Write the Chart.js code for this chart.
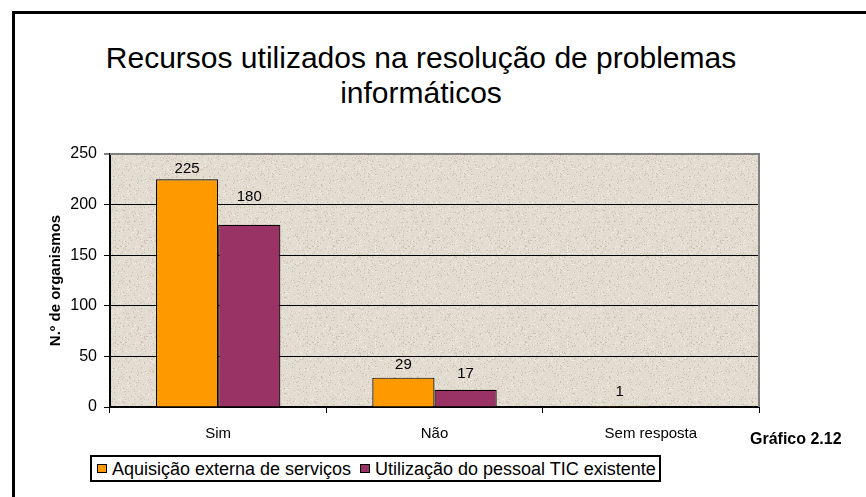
<!DOCTYPE html>
<html><head><meta charset="utf-8">
<script src="https://cdn.jsdelivr.net/npm/chart.js@4/dist/chart.umd.min.js"></script>
<style>
html,body{margin:0;padding:0;background:#fff;overflow:hidden;}
#wrap{position:relative;width:866px;height:497px;font-family:"Liberation Sans",Arial,sans-serif;color:#000;overflow:hidden;}
#frame{position:absolute;left:12px;top:11px;width:900px;height:540px;border:3px solid #000;box-sizing:border-box;}
#title{position:absolute;left:0;width:842px;top:40px;text-align:center;font-size:30px;line-height:35px;white-space:nowrap;}
canvas{position:absolute;left:0;top:0;}
#legend{position:absolute;left:90px;top:455px;width:571px;height:27px;border:2px solid #000;box-sizing:border-box;background:#fff;}
.sw{position:absolute;top:7px;width:10px;height:9px;border:1.5px solid #000;box-sizing:border-box;}
.lt{position:absolute;top:2px;font-size:18px;line-height:20px;white-space:nowrap;}
#fig{position:absolute;left:750px;top:430px;font-size:16px;line-height:18px;font-weight:bold;white-space:nowrap;}
</style></head>
<body>
<div id="wrap">
  <div id="frame"></div>
  <div id="title">Recursos utilizados na resolução de problemas<br>informáticos</div>
  <canvas id="c" width="866" height="497"></canvas>
  <div id="legend"></div>
  <div id="fig">Gráfico 2.12</div>
</div>
<script>
// ---- data ----
const categories = ["Sim", "Não", "Sem resposta"];
const seriesNames = ["Aquisição externa de serviços", "Utilização do pessoal TIC existente"];
const aquisicaoExterna = [225, 29, 1];
const pessoalTIC = [180, 17, null];
const yTicks = [0, 50, 100, 150, 200, 250];

// ---- style ----
const colors = ["#FF9900", "#993366"];
const labelLift = [[6, 9, 10], [24, 12, 10]];

// legend (HTML)
const legend = document.getElementById('legend');
const legendPos = [{sw: 5, tx: 20}, {sw: 268, tx: 283}];
seriesNames.forEach((n, i) => {
  const s = document.createElement('div'); s.className = 'sw';
  s.style.left = legendPos[i].sw + 'px'; s.style.background = colors[i];
  const t = document.createElement('div'); t.className = 'lt';
  t.style.left = legendPos[i].tx + 'px'; t.textContent = n;
  legend.appendChild(s); legend.appendChild(t);
});

// texture pattern (deterministic speckles)
function makeTexture() {
  const c = document.createElement('canvas'); c.width = 96; c.height = 96;
  const g = c.getContext('2d');
  g.fillStyle = '#e2dbcf'; g.fillRect(0, 0, 96, 96);
  for (let y = 0; y < 96; y++) for (let x = 0; x < 96; x++) {
    let h = Math.imul(x * 374761393 + y * 668265263, 1274126177) >>> 0;
    h = (h ^ (h >>> 13)) >>> 0; h = Math.imul(h, 1103515245) >>> 0;
    const v = (h >>> 8) % 100;
    if (v < 6) { g.fillStyle = 'rgba(170,150,125,0.4)'; g.fillRect(x, y, 1, 1); }
    else if (v < 14) { g.fillStyle = 'rgba(245,242,236,0.7)'; g.fillRect(x, y, 1, 1); }
  }
  return c;
}
const tex = makeTexture();

const plotDeco = {
  id: 'plotDeco',
  beforeDraw(chart) {
    const {ctx, chartArea: a} = chart;
    ctx.save();
    ctx.fillStyle = ctx.createPattern(tex, 'repeat');
    ctx.fillRect(a.left, a.top, a.right - a.left, a.bottom - a.top);
    ctx.restore();
  },
  afterDraw(chart) {
    const {ctx, chartArea: a} = chart;
    ctx.save();
    ctx.strokeStyle = '#808080'; ctx.lineWidth = 2;
    ctx.beginPath(); ctx.moveTo(a.left, a.top); ctx.lineTo(a.right, a.top); ctx.lineTo(a.right, a.bottom); ctx.stroke();
    ctx.restore();
  },
  afterDatasetsDraw(chart) {
    const {ctx} = chart;
    ctx.save();
    ctx.font = '15px "Liberation Sans", Arial, sans-serif';
    ctx.fillStyle = '#000'; ctx.textAlign = 'center'; ctx.textBaseline = 'alphabetic';
    chart.data.datasets.forEach((ds, di) => {
      chart.getDatasetMeta(di).data.forEach((el, i) => {
        const v = ds.data[i];
        if (v === null || v === undefined) return;
        ctx.fillText(String(v), el.x, el.y - labelLift[di][i]);
      });
    });
    ctx.restore();
  }
};

new Chart(document.getElementById('c'), {
  type: 'bar',
  data: {
    labels: categories,
    datasets: [
      {label: seriesNames[0], data: aquisicaoExterna, backgroundColor: colors[0], borderColor: '#000', borderWidth: 1.2, categoryPercentage: 0.575, barPercentage: 1},
      {label: seriesNames[1], data: pessoalTIC, backgroundColor: colors[1], borderColor: '#000', borderWidth: 1.2, categoryPercentage: 0.575, barPercentage: 1}
    ]
  },
  options: {
    responsive: false, animation: false, devicePixelRatio: 1,
    layout: {padding: {left: 0, top: 154, right: 107, bottom: 0}},
    plugins: {legend: {display: false}, tooltip: {enabled: false}, title: {display: false}},
    scales: {
      x: {
        afterFit(s) { s.height = 90; },
        grid: {display: true, drawOnChartArea: false, drawTicks: true, tickLength: 6, color: '#000', offset: true},
        border: {display: true, color: '#000', width: 2},
        ticks: {color: '#000', padding: 12, font: {family: '"Liberation Sans", Arial, sans-serif', size: 15}}
      },
      y: {
        min: 0, max: 250,
        afterFit(s) { s.width = 110; },
        afterBuildTicks(s) { s.ticks = yTicks.map(v => ({value: v})); },
        grid: {
          color: c => (c.tick && c.tick.value === 250) ? '#808080' : '#000',
          lineWidth: c => (c.tick && c.tick.value === 250) ? 2 : 1,
          tickColor: '#000', tickWidth: 1, tickLength: 6, drawTicks: true
        },
        border: {display: true, color: '#000', width: 2},
        ticks: {color: '#000', padding: 7, font: {family: '"Liberation Sans", Arial, sans-serif', size: 16}},
        title: {display: true, text: 'N.º de organismos', color: '#000', padding: {top: 47, bottom: 0},
          font: {family: '"Liberation Sans", Arial, sans-serif', size: 15, weight: 'bold'}}
      }
    }
  },
  plugins: [plotDeco]
});
</script>
</body></html>
